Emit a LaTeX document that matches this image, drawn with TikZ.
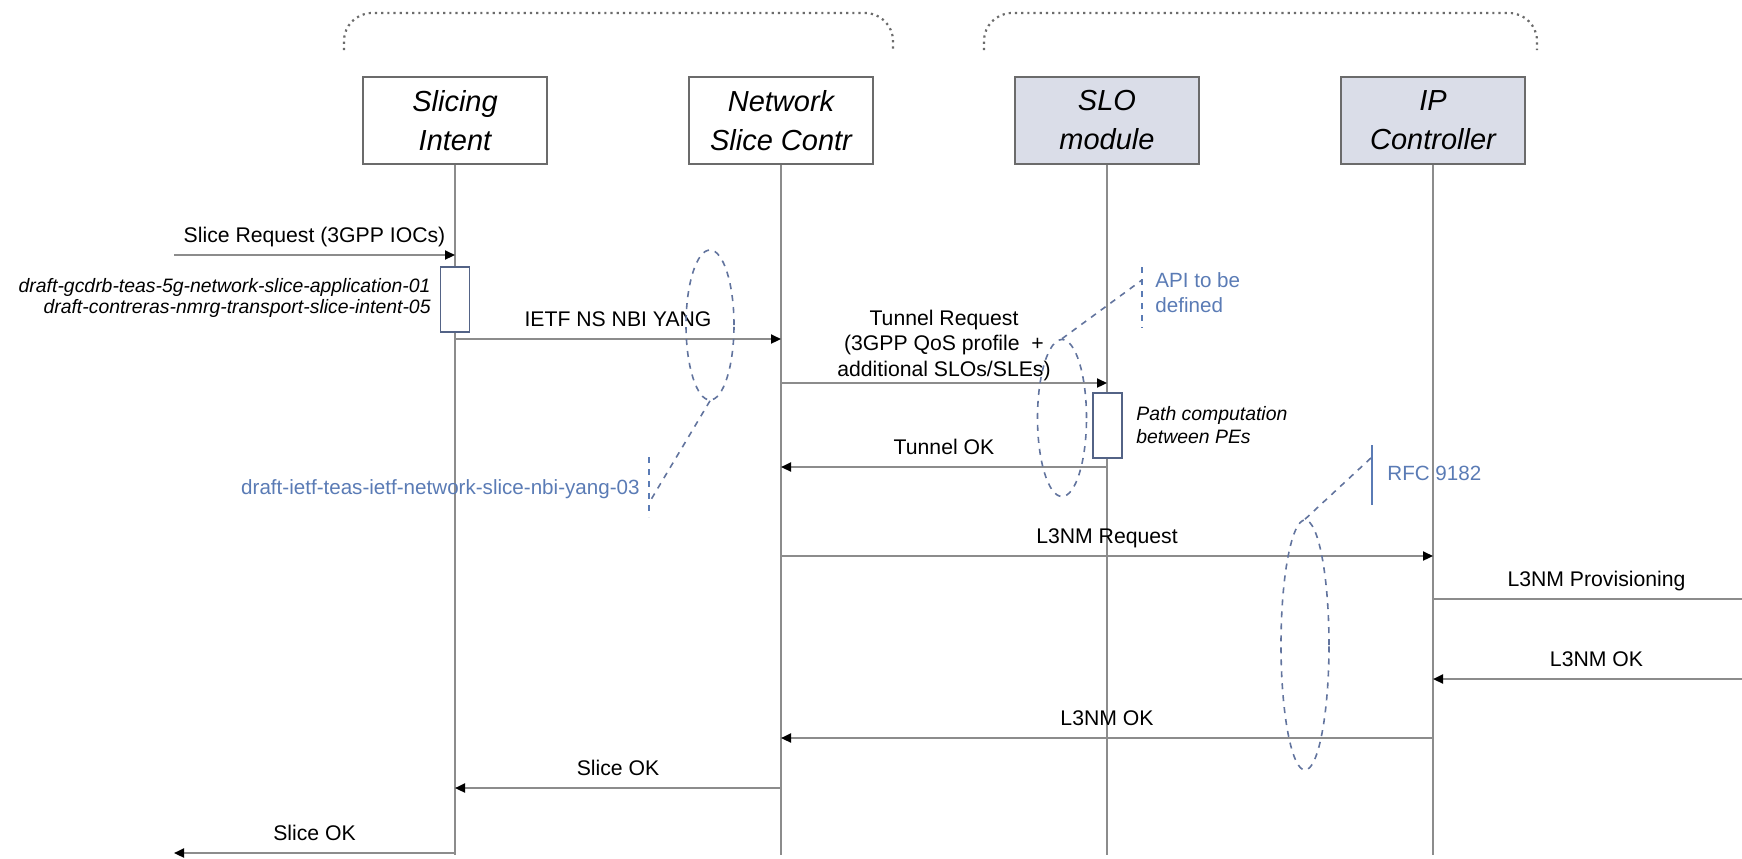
\documentclass[tikz,border=0pt]{standalone}
\usepackage{fontspec}
\setmainfont{Liberation Sans}
\usetikzlibrary{arrows.meta,shapes.geometric}
\definecolor{lifegray}{HTML}{8C8C8C}
\definecolor{boxgray}{HTML}{6B6B6B}
\definecolor{modfill}{HTML}{DADDE8}
\definecolor{refblue}{HTML}{5A7BB5}
\definecolor{ovalblue}{HTML}{62749E}

\begin{document}
\begin{tikzpicture}[x=0.5pt,y=-0.5pt,>={Triangle[length=5pt,width=4.5pt,color=black]},
  font=\fontsize{10.6}{12.8}\selectfont,
  actor/.style={draw=boxgray,line width=1pt,minimum width=92pt,minimum height=43.5pt,align=center,
    font=\fontsize{14.5}{19.5}\selectfont\itshape},
  life/.style={draw=lifegray,line width=1pt},
  msg/.style={draw=lifegray,line width=1.1pt},
  lbl/.style={anchor=south,inner sep=0pt,text depth=0pt,align=center,yshift=5.5pt},
  actbox/.style={draw=ovalblue!85!black,fill=white,line width=0.8pt,minimum width=14.5pt,minimum height=32.5pt,inner sep=0pt},
  note/.style={inner sep=0pt,font=\fontsize{9.7}{11}\selectfont\itshape},
  oval/.style={draw=ovalblue,dashed,line width=0.8pt,ellipse,inner sep=0pt},
  ref/.style={inner sep=0pt,text=refblue,font=\fontsize{10.3}{12}\selectfont},
  refbar/.style={draw=refblue,line width=0.8pt},
  leader/.style={draw=ovalblue,dashed,line width=0.8pt},
  group/.style={draw=boxgray,dotted,line width=1.1pt,rounded corners=14pt}]

\useasboundingbox (0,0) rectangle (1742,858);
\clip (0,0) rectangle (1742,858);

\draw[group] (344,50) -- (344,13) -- (893,13) -- (893,50);
\draw[group] (984,50) -- (984,13) -- (1537,13) -- (1537,50);

\foreach \id/\x/\fillc/\txt in {
  si/455/white/{Slicing\\Intent},
  nsc/781/white/{Network\\Slice Contr},
  slo/1107/modfill/{SLO\\module},
  ipc/1433/modfill/{IP\\Controller}%
}{
  \coordinate (\id end) at (\x,855);
  \draw[life] (\x,164) -- (\id end);
  \node[actor,fill=\fillc] (\id) at (\x,120.5) {\txt};
}

\coordinate (env) at (174,0);
\coordinate (edge) at (1760,0);

\node[actbox] (siact) at (455,299.5) {};
\node[actbox] (sloact) at (1107.5,425.5) {};

\foreach \a/\b/\y/\txt in {
  env/si/255/{Slice Request (3GPP IOCs)},
  si/nsc/339/{IETF NS NBI YANG},
  slo/nsc/467/{Tunnel OK},
  nsc/ipc/556/{L3NM Request},
  edge/ipc/679/{L3NM OK},
  ipc/nsc/738/{L3NM OK},
  nsc/si/788/{Slice OK},
  si/env/853/{Slice OK}%
}{
  \draw[msg,->] (\a |- 0,\y) -- (\b |- 0,\y) node[lbl,midway] {\txt};
}
\draw[msg,->] (nsc |- 0,383) -- (slo |- 0,383)
  node[lbl,midway,yshift=-2.8pt] {Tunnel Request\\(3GPP QoS profile \ +\\additional SLOs/SLEs)};
\draw[msg] (ipc |- 0,599) -- (edge |- 0,599) node[lbl,midway] {L3NM Provisioning};

\node[note,anchor=base east] (gcdrb) at (431,292) {draft-gcdrb-teas-5g-network-slice-application-01};
\node[note,anchor=base east] (contreras) at (431,313) {draft-contreras-nmrg-transport-slice-intent-05};
\node[note,anchor=base west] (pathcomp) at (1136,420) {Path computation};
\node[note,anchor=base west] (betweenpe) at (1136,443) {between PEs};

\node[oval,minimum width=24pt,minimum height=75pt] (nbioval) at (710,325) {};
\node[oval,minimum width=24.5pt,minimum height=78.5pt] (apioval) at (1062,418) {};
\node[oval,minimum width=24pt,minimum height=125pt] (rfcoval) at (1305,645) {};

\node[ref,anchor=base east] (nbiref) at (640,494) {draft-ietf-teas-ietf-network-slice-nbi-yang-03};
\node[ref,anchor=base west] (apiref) at (1155,287) {API to be};
\node[ref,anchor=base west] (apiref2) at (1155,312) {defined};
\node[ref,anchor=base west] (rfcref) at (1387,480) {RFC 9182};

\coordinate (nbibar) at (649,503);
\coordinate (apibar) at (1142,280);
\coordinate (rfcbar) at (1372,457);
\draw[refbar,dashed] (649,457) -- (649,517);
\draw[refbar,dashed] (1142,267) -- (1142,328);
\draw[refbar] (1372,445) -- (1372,505);

\draw[leader] (nbioval.south) -- (nbibar);
\draw[leader] (apioval.north) -- (apibar);
\draw[leader] (rfcoval.north) -- (rfcbar);
\end{tikzpicture}
\end{document}
